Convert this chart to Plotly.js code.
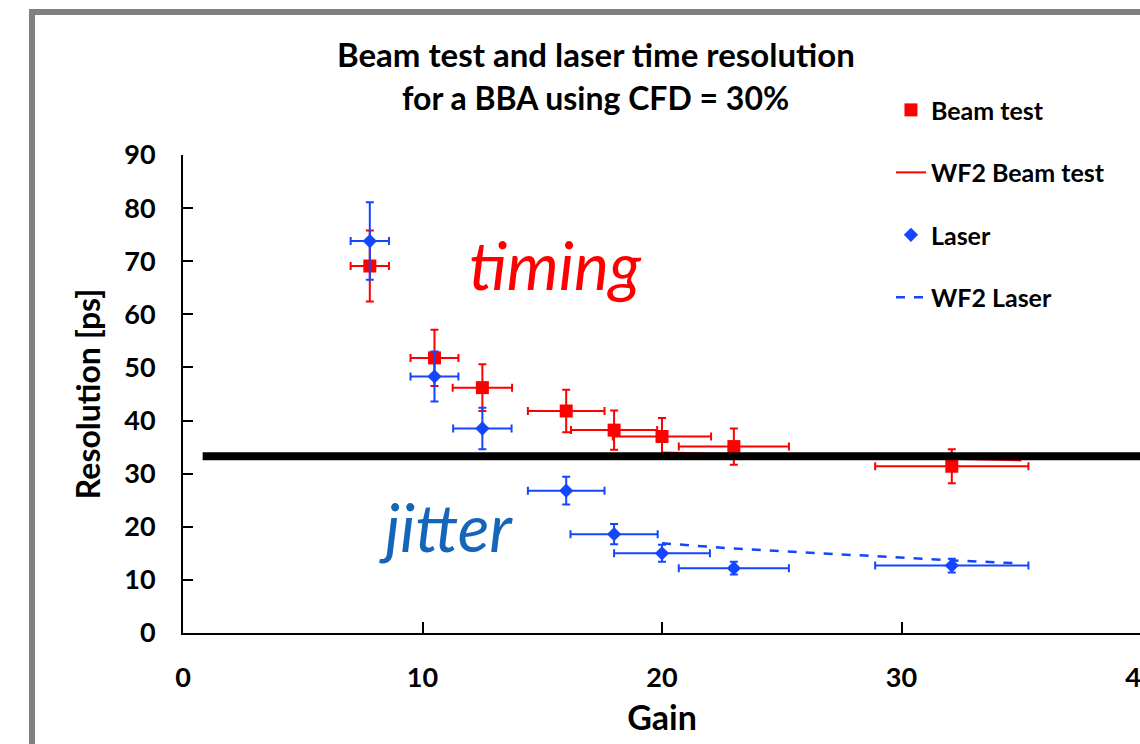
<!DOCTYPE html>
<html>
<head>
<meta charset="utf-8">
<script src="https://cdn.plot.ly/plotly-3.0.1.min.js"></script>
<style>
  html, body { margin:0; padding:0; background:#ffffff; overflow:hidden; width:1140px; height:744px; }
  #frame { position:absolute; left:29px; top:9px; width:2000px; height:2000px; border:6px solid #808080; box-sizing:border-box; z-index:0; }
  #chart { position:absolute; left:0; top:0; width:1160px; height:744px; z-index:1; }
</style>
</head>
<body>
<div id="frame"></div>
<div id="chart"></div>
<script>
// Beam test (red squares)
const beamGain   = [7.8, 10.5, 12.5, 16.0, 18.0, 20.0, 23.0, 32.1];
const beamRes    = [69.1, 51.8, 46.2, 41.8, 38.2, 37.0, 35.1, 31.4];
const beamResErr = [6.7, 5.3, 4.4, 4.0, 3.7, 3.5, 3.4, 3.2];
const beamGainErr= [0.8, 1.0, 1.24, 1.6, 1.8, 2.05, 2.3, 3.2];

// Laser (blue diamonds)
const laserGain   = [7.8, 10.5, 12.5, 16.0, 18.0, 20.0, 23.0, 32.1];
const laserRes    = [73.8, 48.3, 38.5, 26.8, 18.6, 15.0, 12.2, 12.7];
const laserResErr = [7.3, 4.7, 3.9, 2.6, 1.9, 1.6, 1.2, 1.3];
const laserGainErr= [0.8, 1.0, 1.22, 1.6, 1.82, 2.0, 2.3, 3.2];

// WF2 simulations
const wf2BeamGain  = [20, 23, 32, 35];
const wf2BeamRes   = [34.0, 33.7, 32.8, 32.5];
const wf2LaserGain = [20, 23, 32, 35];
const wf2LaserRes  = [16.9, 15.9, 13.7, 13.1];

// Separation line level
const sepLevel = 33.3;
const sepStart = 0.82;
const sepEnd = 40;

const xTicks = [0, 10, 20, 30, 40];
const yTicks = [0, 10, 20, 30, 40, 50, 60, 70, 80, 90];

const RED = '#ff0000';
const BLUE = '#1446ff';
const FONT = 'Lato, "Open Sans", sans-serif';

const traces = [
  {
    name: 'Beam test', legendgroup: 'a', type: 'scatter', mode: 'markers',
    x: beamGain, y: beamRes,
    marker: {symbol: 'square', size: 13, color: RED},
    error_y: {type: 'data', array: beamResErr, visible: true, color: RED, thickness: 2, width: 4},
    error_x: {type: 'data', array: beamGainErr, visible: true, color: RED, thickness: 2, width: 4}
  },
  {
    name: 'WF2 Beam test', legendgroup: 'b', type: 'scatter', mode: 'lines',
    x: wf2BeamGain, y: wf2BeamRes,
    line: {color: RED, width: 2}
  },
  {
    name: 'Laser', legendgroup: 'c', type: 'scatter', mode: 'markers',
    x: laserGain, y: laserRes,
    marker: {symbol: 'diamond', size: 11, color: BLUE},
    error_y: {type: 'data', array: laserResErr, visible: true, color: BLUE, thickness: 2, width: 4},
    error_x: {type: 'data', array: laserGainErr, visible: true, color: BLUE, thickness: 2, width: 4}
  },
  {
    name: 'WF2 Laser', legendgroup: 'd', type: 'scatter', mode: 'lines',
    x: wf2LaserGain, y: wf2LaserRes,
    line: {color: BLUE, width: 2.5, dash: 'dash'}
  }
];

const layout = {
  width: 1160, height: 744,
  paper_bgcolor: 'rgba(0,0,0,0)', plot_bgcolor: 'rgba(0,0,0,0)',
  margin: {l: 183, r: 19, t: 155, b: 111},
  font: {family: FONT, color: '#000000', size: 22, weight: 'bold'},
  title: {
    text: 'Beam test and laser time resolution',
    font: {family: FONT, size: 33, color: '#000000', weight: 'bold'},
    x: 0.431, xanchor: 'center', xref: 'paper',
    y: 0.926, yanchor: 'middle', yref: 'container'
  },
  showlegend: true,
  legend: {
    x: 0.739, xanchor: 'left', y: 1.142, yanchor: 'top',
    bgcolor: 'rgba(0,0,0,0)', borderwidth: 0,
    font: {family: FONT, size: 25, color: '#000000', weight: 'bold'},
    traceorder: 'grouped', tracegroupgap: 27, itemwidth: 30
  },
  xaxis: {
    range: [0, 40], tickvals: xTicks, ticktext: xTicks.map(String),
    showgrid: false, zeroline: false, showline: true, linecolor: '#000000', linewidth: 2,
    ticks: 'inside', ticklen: 11, tickwidth: 2, tickcolor: '#000000',
    ticklabelstandoff: 20,
    tickfont: {family: FONT, size: 27, color: '#000000', weight: 'bold'},
    title: {text: 'Gain', font: {family: FONT, size: 34, color: '#000000', weight: 'bold'}, standoff: 14},
    automargin: false
  },
  yaxis: {
    range: [0, 90], tickvals: yTicks, ticktext: yTicks.map(String),
    showgrid: false, zeroline: false, showline: true, linecolor: '#000000', linewidth: 2,
    ticks: 'inside', ticklen: 10, tickwidth: 2, tickcolor: '#000000',
    ticklabelstandoff: 20,
    tickfont: {family: FONT, size: 27, color: '#000000', weight: 'bold'},
    title: {text: 'Resolution [ps]', font: {family: FONT, size: 32, color: '#000000', weight: 'bold'}, standoff: 14},
    automargin: false
  },
  shapes: [
    {type: 'line', xref: 'x', yref: 'y', x0: sepStart, x1: sepEnd, y0: sepLevel, y1: sepLevel,
     line: {color: '#000000', width: 8}, layer: 'above'}
  ],
  annotations: [
    {text: 'for a BBA using CFD = 30%', xref: 'paper', yref: 'paper', x: 0.431, y: (633 - 98) / 478,
     xanchor: 'center', yanchor: 'middle', showarrow: false,
     font: {family: FONT, size: 32, color: '#000000', weight: 'bold'}},
    {text: 'timing', xref: 'x', yref: 'y', x: 15.55, y: 69.3, xanchor: 'center', yanchor: 'middle',
     showarrow: false, font: {family: FONT, size: 66, color: RED, style: 'italic', weight: 'normal'}},
    {text: 'jitter', xref: 'x', yref: 'y', x: 11.0, y: 20.0, xanchor: 'center', yanchor: 'middle',
     showarrow: false, font: {family: FONT, size: 66, color: '#1565b8', style: 'italic', weight: 'normal'}}
  ]
};

Plotly.newPlot('chart', traces, layout, {displayModeBar: false, staticPlot: true});
</script>
</body>
</html>
